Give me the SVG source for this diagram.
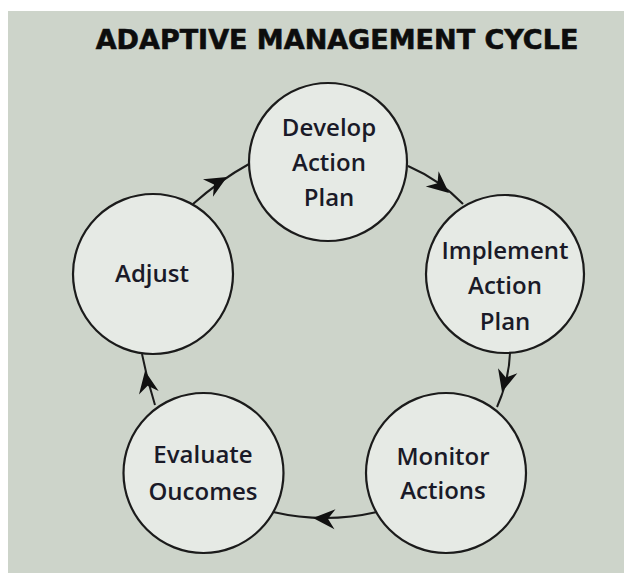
<svg xmlns="http://www.w3.org/2000/svg" width="624" height="573" viewBox="0 0 624 573">
<style>
  .node circle { fill: #e6eae5; stroke: #1b1b1b; stroke-width: 2.2; }
  .node text { font-family: "Open Sans", "DejaVu Sans", sans-serif; font-weight: 600; font-size: 24px; fill: #1a1a28; text-anchor: middle; }
  .title { font-family: "DejaVu Sans", "Liberation Sans", sans-serif; font-weight: bold; font-size: 27px; fill: #0d0d0d; text-anchor: middle; }
  #connectors path.link { fill: none; stroke: #1b1b1b; stroke-width: 2; }
</style>
<defs>
  <path id="arrow" d="M0,0 L-22,-10 L-15,0 L-22,10 Z" fill="#111111"/>
</defs>
<rect x="0" y="0" width="624" height="573" fill="#ffffff"/>
<rect x="8" y="11" width="616" height="562" fill="#cdd4ca"/>
<text class="title" x="337" y="49" stroke="#0d0d0d" stroke-width="0.6">ADAPTIVE MANAGEMENT CYCLE</text>

<g id="connectors">
  <path class="link" d="M408,166 Q440,180 463,204"/>
  <use href="#arrow" transform="translate(449,193) rotate(40)"/>
  <path class="link" d="M510,353 Q509,380 497,407"/>
  <use href="#arrow" transform="translate(502,392) rotate(105)"/>
  <path class="link" d="M377,512 Q325,524 273,512"/>
  <use href="#arrow" transform="translate(313,518) rotate(183)"/>
  <path class="link" d="M155,405 Q147,380 142,354"/>
  <use href="#arrow" transform="translate(145,371) rotate(-100)"/>
  <path class="link" d="M193,204 Q220,180 249,164"/>
  <use href="#arrow" transform="translate(227,177) rotate(-30)"/>
</g>

<g id="develop" class="node">
  <circle cx="328" cy="162" r="79"/>
  <text x="329" y="136">Develop</text>
  <text x="329" y="171">Action</text>
  <text x="329" y="206">Plan</text>
</g>
<g id="implement" class="node">
  <circle cx="505" cy="274" r="79"/>
  <text x="505" y="259">Implement</text>
  <text x="505" y="294">Action</text>
  <text x="505" y="330">Plan</text>
</g>
<g id="monitor" class="node">
  <circle cx="446" cy="473" r="80"/>
  <text x="443" y="465">Monitor</text>
  <text x="443" y="499">Actions</text>
</g>
<g id="evaluate" class="node">
  <circle cx="203.5" cy="473" r="80"/>
  <text x="203" y="463">Evaluate</text>
  <text x="203" y="500">Oucomes</text>
</g>
<g id="adjust" class="node">
  <circle cx="153" cy="274" r="80"/>
  <text x="152" y="282">Adjust</text>
</g>
</svg>
